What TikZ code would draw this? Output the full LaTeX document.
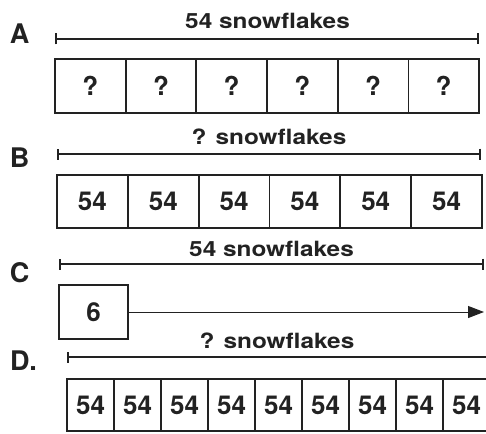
\documentclass[tikz,border=0pt]{standalone}
\usepackage{fontspec}
\setmainfont{TeX Gyre Heros}
\usetikzlibrary{arrows.meta}
\definecolor{ink}{HTML}{222222}
\tikzset{
  cell/.style={draw=ink, line width=1.7pt, inner sep=0pt, text=ink,
    font=\bfseries\fontsize{26}{29}\selectfont},
  title/.style={text=ink, inner sep=0pt, font=\bfseries\fontsize{21}{24}\selectfont},
  letter/.style={text=ink, inner sep=0pt, font=\bfseries\fontsize{27}{30}\selectfont},
  bracket/.style={draw=ink, line width=1.8pt, {Bar[width=11pt,line width=1.8pt]}-{Bar[width=11pt,line width=1.8pt]}},
  lbracket/.style={draw=ink, line width=1.8pt, {Bar[width=11pt,line width=1.8pt]}-},
}
\newcommand{\wide}[1]{\scalebox{1.16}[1]{#1}}
\begin{document}
\begin{tikzpicture}[x=1pt,y=-1pt]
\useasboundingbox (0,0) rectangle (486,433);
\clip (0,0) rectangle (486,433);
% A
\node[letter] (la) at (19.5,34) {A};
\node[title] (ta) at (267.5,20.8) {\wide{54 snowflakes}};
\coordinate (a0) at (55,39); \coordinate (a1) at (479,39);
\draw[bracket] (a0) -- (a1);
\foreach \i in {0,...,5}{
  \node[cell, minimum width=70.67pt, minimum height=54pt] (a\i c) at (55+35.33+\i*70.67,86) {?};
}
% B
\node[letter] (lb) at (19.5,157.5) {B};
\node[title] (tb) at (269,137) {\wide{? snowflakes}};
\coordinate (b0) at (57,154); \coordinate (b1) at (481,154);
\draw[bracket] (b0) -- (b1);
\foreach \i in {0,...,5}{
  \node[cell, minimum width=70.83pt, minimum height=53pt] (b\i c) at (57+35.42+\i*70.83,201.5) {54};
}
% C
\node[letter] (lc) at (19.5,272.5) {C};
\node[title] (tc) at (271.5,249) {\wide{54 snowflakes}};
\coordinate (c0) at (59,264); \coordinate (c1) at (484,264);
\draw[bracket] (c0) -- (c1);
\node[cell, minimum width=69pt, minimum height=54pt] (cbox) at (93.5,312) {6};
\coordinate (cend) at (484,312);
\draw[draw=ink, line width=1pt, -{Triangle[length=16pt,width=12pt]}] (cbox.east) -- (cend);
% D
\node[letter] (ld) at (23.5,361) {D.};
\node[title] (td) at (277,340.5) {\wide{? snowflakes}};
\coordinate (d0) at (67,357); \coordinate (d1) at (500,357);
\draw[lbracket] (d0) -- (d1);
\foreach \i in {0,...,8}{
  \node[cell, minimum width=47pt, minimum height=52pt] (d\i c) at (67+23.5+\i*47,405) {54};
}
\end{tikzpicture}
\end{document}
